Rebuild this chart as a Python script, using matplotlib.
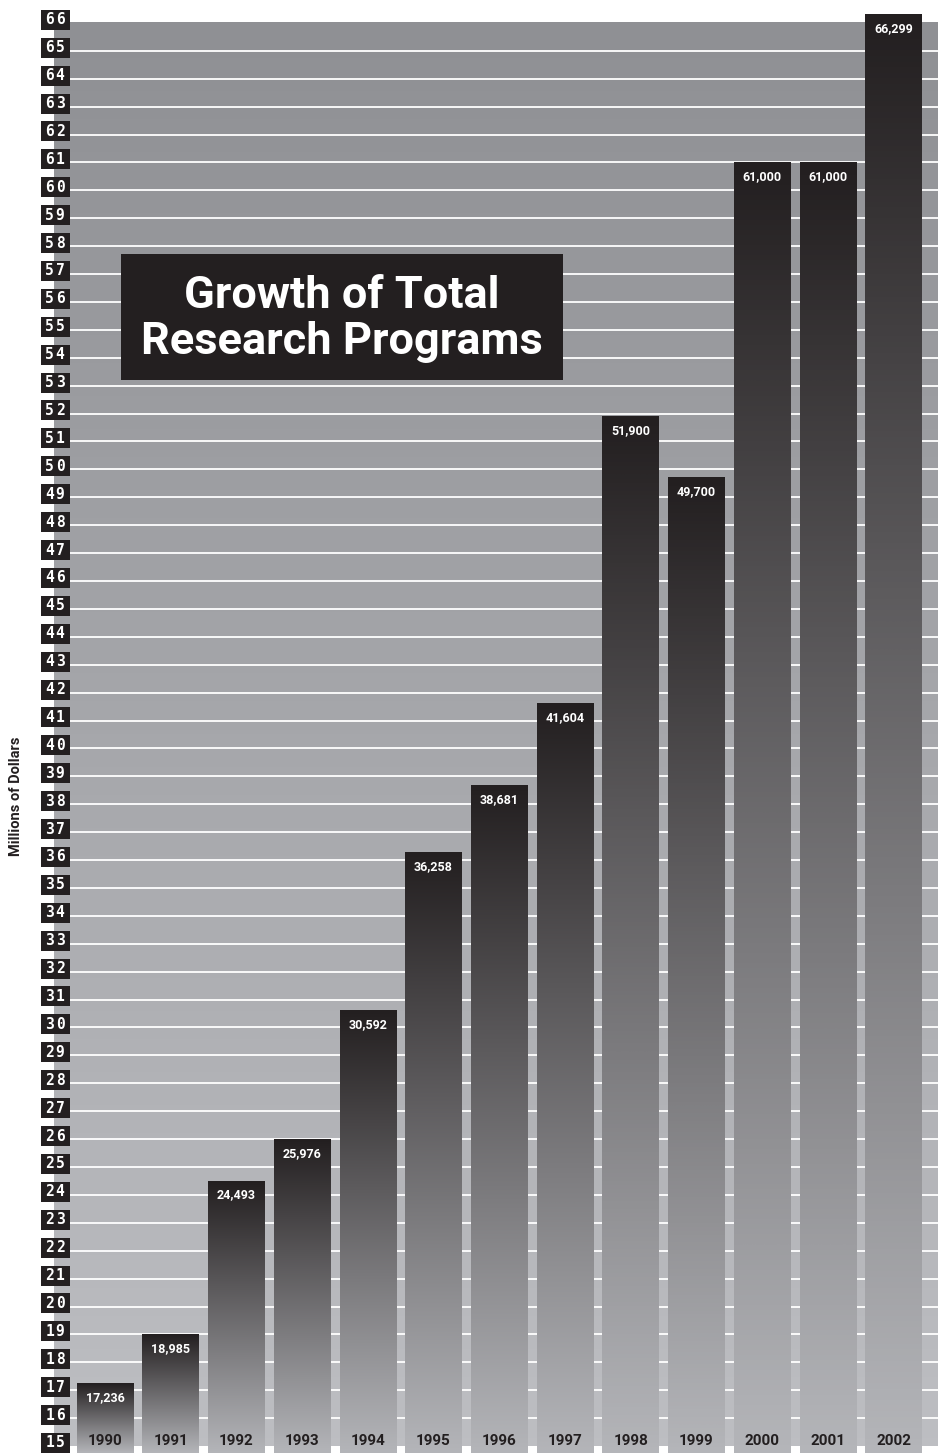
import numpy as np
import matplotlib
matplotlib.use("Agg")
import matplotlib.pyplot as plt
from matplotlib.colors import LinearSegmentedColormap
from matplotlib.patches import Rectangle
import matplotlib.transforms as mtransforms

# ---- data ----
years = ["1990", "1991", "1992", "1993", "1994", "1995", "1996",
         "1997", "1998", "1999", "2000", "2001", "2002"]
values = [17.236, 18.985, 24.493, 25.976, 30.592, 36.258, 38.681,
          41.604, 51.900, 49.700, 61.000, 61.000, 66.299]
value_labels = ["17,236", "18,985", "24,493", "25,976", "30,592", "36,258",
                "38,681", "41,604", "51,900", "49,700", "61,000", "61,000",
                "66,299"]
y_ticks = list(range(15, 67))
title_lines = ["Growth of Total", "Research Programs"]
ylabel = "Millions of Dollars"

W, H = 938, 1453
fig = plt.figure(figsize=(W / 100, H / 100), dpi=100)
ax_left = 54 / W
ax = fig.add_axes([ax_left, 0, 1 - ax_left, 1])
ax.set_facecolor("white")

x = np.arange(len(years))
ymin, ymax = 14.75, 66.82
xmin, xmax = -0.776, len(years) - 1 + 0.677
ax.set_xlim(xmin, xmax)
ax.set_ylim(ymin, ymax)
ax.axis("off")

# background gradient (15..66)
bg_cmap = LinearSegmentedColormap.from_list("bg", ["#8f9094", "#bdbec2"])
grad = np.linspace(0, 1, 256).reshape(-1, 1)
ax.imshow(grad, cmap=bg_cmap, aspect="auto", extent=[xmin, xmax, 15, 66],
          origin="upper", zorder=0, interpolation="bicubic")

# gridlines, starting right of tick boxes
grid_x0 = xmin + (70 - 54) / 65.7
for t in y_ticks[1:-1]:
    ax.plot([grid_x0, xmax], [t, t], color="white", lw=1.3, zorder=1,
            solid_capstyle="butt")

# bars with gradient
bars = ax.bar(x, [v - ymin for v in values], bottom=ymin, width=0.86,
              color="none", edgecolor="none", zorder=2)
bar_cmap = LinearSegmentedColormap.from_list(
    "bar", ["#231f20", "#b4b5b9"], N=256)
for b in bars:
    x0, y0 = b.get_x(), b.get_y()
    w, h = b.get_width(), b.get_height()
    ax.imshow(grad, cmap=bar_cmap, aspect="auto",
              extent=[x0, x0 + w, y0, y0 + h], origin="upper",
              zorder=2, interpolation="bicubic")

# value labels and year labels
for xi, v, lab, yr in zip(x, values, value_labels, years):
    ax.text(xi, v - 0.5, lab, ha="center", va="center", color="white",
            fontsize=9, fontweight="bold", family="Roboto", zorder=4)
    ax.text(xi, 15.18, yr, ha="center", va="center", color="#231f20",
            fontsize=11, fontweight="bold", family="Roboto", zorder=4)

# tick label boxes
trans = mtransforms.blended_transform_factory(fig.transFigure, ax.transData)
box_h = 20 / 27.9
for t in y_ticks:
    cy = t + 0.11
    rect = Rectangle((41 / W, cy - box_h / 2), 29 / W, box_h,
                     transform=trans, facecolor="#231f20", edgecolor="none",
                     clip_on=False, zorder=5)
    ax.add_patch(rect)
    for ch, cx in zip(str(t), (49.5, 60.0)):
        ax.text(cx / W, cy, ch, transform=trans, ha="center",
                va="center", color="white", fontsize=10.5, fontweight="bold",
                family="DejaVu Sans Mono", zorder=6, clip_on=False)

# title box
ftrans = fig.transFigure
title_rect = Rectangle((121 / W, 1 - 380 / H), (563 - 121) / W, 126 / H,
                       transform=ftrans, facecolor="#231f20",
                       edgecolor="none", zorder=7)
fig.add_artist(title_rect)
fig.text(342 / W, 1 - 296 / H, title_lines[0], ha="center", va="center",
         color="white", fontsize=32.5, fontweight="bold", family="Roboto",
         zorder=8)
fig.text(342 / W, 1 - 342 / H, title_lines[1], ha="center", va="center",
         color="white", fontsize=32.5, fontweight="bold", family="Roboto",
         zorder=8)

# y label
fig.text(16 / W, 1 - 796 / H, ylabel, rotation=90, ha="center", va="center",
         color="#231f20", fontsize=10.5, fontweight="bold", family="Roboto")

fig.savefig("out.png", dpi=100)
